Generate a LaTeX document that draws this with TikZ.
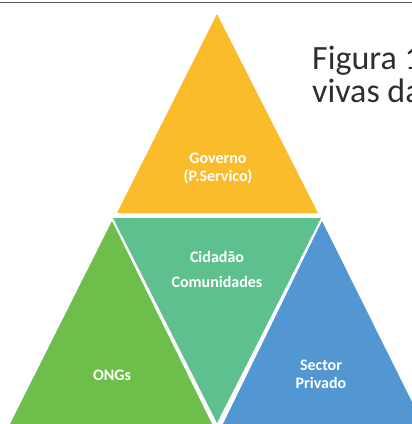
\documentclass[tikz,border=0pt]{standalone}
\usepackage{fontspec}
\setmainfont{Carlito}
\usetikzlibrary{positioning}

\definecolor{govyellow}{HTML}{FBBC2B}
\definecolor{cidteal}{HTML}{5EC08F}
\definecolor{onggreen}{HTML}{6DBE4B}
\definecolor{privblue}{HTML}{5296D2}

\begin{document}
\begin{tikzpicture}[x=1pt,y=-1pt,
    lbl/.style={text=white,font=\fontsize{16}{18}\selectfont\bfseries,align=center,inner sep=0pt},
    titulo/.style={anchor=base west,inner sep=0pt,text=black!82,font=\fontsize{34}{34}\selectfont}]
    \useasboundingbox (0,0) rectangle (412,424);
    \clip (0,0) rectangle (412,424);
    % 顶部线
    \draw[black!65, line width=1pt] (0,2.5) -- (412,2.5);

    % 四个三角形
    \fill[govyellow] (217,14) -- (117,213) -- (318,213) -- cycle;
    \fill[cidteal] (113,218) -- (321,218) -- (217,423) -- cycle;
    \fill[onggreen] (112,221) -- (9,426) -- (213,426) -- cycle;
    \fill[privblue] (322,221) -- (222,426) -- (424,426) -- cycle;

    \node[lbl] (gov) at (218,168) {Governo\\(P.Servico)};
    \node[lbl] (cid) at (217,269) {Cidadão\\[7pt]Comunidades};
    \node[lbl] (ong) at (112,375) {ONGs};
    \node[lbl] (priv) at (321,374) {Sector\\Privado};

    % 标题 (被裁切)
    \node[titulo] (fig) at (312,69) {Figura 1};
    \node[titulo] (viv) at (312,102) {vivas da};
\end{tikzpicture}
\end{document}
